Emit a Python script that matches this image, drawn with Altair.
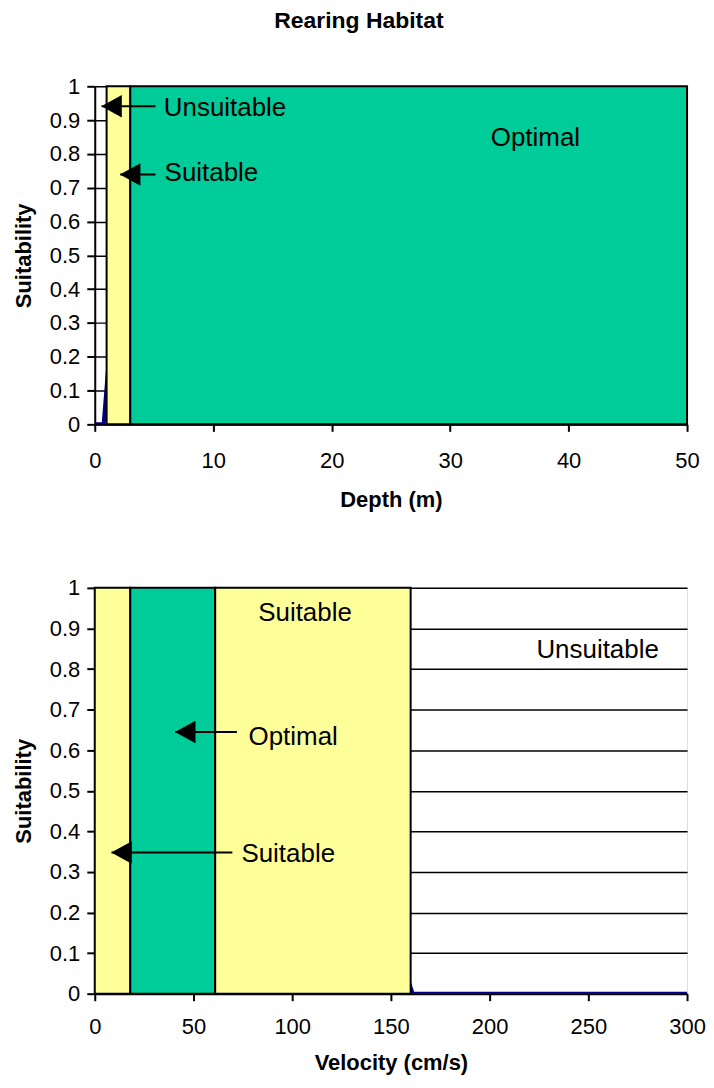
import altair as alt
import pandas as pd

# ---------------- data ----------------
# Depth panel
depth_zone_start = [1, 3]
depth_zone_end = [3, 50]
depth_zone_class = ["Suitable", "Optimal"]
depth_curve_x = [0, 0.75, 3, 50]
depth_curve_y = [0, 0, 1, 1]
depth_labels = ["Unsuitable", "Suitable", "Optimal"]
depth_label_x = [11.0, 9.85, 37.2]
depth_label_y = [0.935, 0.742, 0.846]
depth_arrow_tip_x = [0.58, 2.15]
depth_arrow_tail_x = [5.13, 5.13]
depth_arrow_y = [0.941, 0.739]
depth_ticks = [0, 10, 20, 30, 40, 50]

# Velocity panel
vel_zone_start = [0, 18, 61]
vel_zone_end = [18, 61, 160]
vel_zone_class = ["Suitable", "Optimal", "Suitable"]
vel_curve_x = [0, 18, 61, 94, 161, 300]
vel_curve_y = [0.3, 1, 1, 1, 0, 0]
vel_labels = ["Suitable", "Unsuitable", "Optimal", "Suitable"]
vel_label_x = [106.5, 254.7, 100.5, 98.0]
vel_label_y = [0.939, 0.846, 0.632, 0.344]
vel_arrow_tip_x = [40.8, 8.5]
vel_arrow_tail_x = [72, 69.7]
vel_arrow_y = [0.645, 0.348]
vel_ticks = [0, 50, 100, 150, 200, 250, 300]

suit_ticks = [round(i * 0.1, 1) for i in range(11)]
zone_domain = ["Suitable", "Optimal"]
zone_colors = ["#FFFF99", "#00CC99"]

FONT = "Liberation Sans"


def panel(zs, ze, zc, cx, cy, lt, lx, ly, at, atl, ay, xmax, xticks, xtitle,
          w, h, lpad, tpad):
    zones = pd.DataFrame({"x": zs, "x2": ze, "cls": zc,
                          "y0": [0] * len(zs), "y1": [1] * len(zs)})
    curve = pd.DataFrame({"x": cx, "y": cy})
    labels = pd.DataFrame({"t": lt, "x": lx, "y": ly})
    arrows = pd.DataFrame({"tip": at, "tail": atl, "y": ay})

    xscale = alt.Scale(domain=[0, xmax], nice=False, zero=True)
    yscale = alt.Scale(domain=[0, 1], nice=False)

    xaxis = alt.Axis(values=xticks, tickCount=len(xticks), grid=False,
                     tickSize=7, tickWidth=2,
                     tickColor="black", domainColor="black", domainWidth=2,
                     labelPadding=lpad, labelFontSize=22, labelFont=FONT,
                     labelColor="black", title=xtitle, titleFont=FONT,
                     titleFontSize=22, titleFontWeight="bold", titleColor="black",
                     titlePadding=tpad, labelFlush=False, labelOverlap=False)
    yaxis = alt.Axis(values=suit_ticks, tickCount=11, format=".1~f", grid=True,
                     gridColor="black", gridWidth=1.5, tickSize=8, tickWidth=2,
                     tickColor="black", domainColor="black", domainWidth=2,
                     labelPadding=7, labelFontSize=22, labelFont=FONT,
                     labelColor="black", title="Suitability", titleFont=FONT,
                     titleFontSize=22, titleFontWeight="bold", titleColor="black",
                     titlePadding=14, labelFlush=False, labelOverlap=False)

    def X(f):
        return alt.X(f, type="quantitative", scale=xscale, axis=xaxis)

    def Y(f):
        return alt.Y(f, type="quantitative", scale=yscale, axis=yaxis)

    line = alt.Chart(curve).mark_line(color="#000080", strokeWidth=4, clip=True).encode(
        x=X("x"), y=Y("y"),
    )
    rects = alt.Chart(zones).mark_rect(stroke="black", strokeWidth=2).encode(
        x=X("x"),
        x2="x2:Q",
        y=Y("y0"),
        y2="y1:Q",
        color=alt.Color("cls:N", scale=alt.Scale(domain=zone_domain, range=zone_colors), legend=None),
    )
    rules = alt.Chart(arrows).mark_rule(color="black", strokeWidth=2).encode(
        x=X("tip"), x2="tail:Q", y=Y("y")
    )
    heads = alt.Chart(arrows).mark_point(
        shape="M -1 0 L 1 -1.1 L 1 1.1 Z", size=420, filled=True,
        color="black", opacity=1, xOffset=10
    ).encode(x=X("tip"), y=Y("y"))
    texts = alt.Chart(labels).mark_text(
        font=FONT, fontSize=26, color="black", align="center", baseline="middle"
    ).encode(x=X("x"), y=Y("y"), text="t:N")

    return alt.layer(line, rects, rules, heads, texts).properties(width=w, height=h)


top = panel(depth_zone_start, depth_zone_end, depth_zone_class,
            depth_curve_x, depth_curve_y, depth_labels, depth_label_x, depth_label_y,
            depth_arrow_tip_x, depth_arrow_tail_x, depth_arrow_y,
            50, depth_ticks, "Depth (m)", 594, 339, 19, 18)
bottom = panel(vel_zone_start, vel_zone_end, vel_zone_class,
               vel_curve_x, vel_curve_y, vel_labels, vel_label_x, vel_label_y,
               vel_arrow_tip_x, vel_arrow_tail_x, vel_arrow_y,
               300, vel_ticks, "Velocity (cm/s)", 594, 407, 16, 15)

chart = alt.vconcat(top, bottom, spacing=65).properties(
    title=alt.TitleParams("Rearing Habitat", font=FONT, fontSize=23,
                          fontWeight="bold", anchor="middle", frame="bounds",
                          offset=42, color="black"),
    padding={"left": 3, "top": 0, "right": 0, "bottom": 0},
).configure_view(stroke="black", strokeWidth=1.5).configure_axis(
    labelOverlap=False
).configure(background="white")

chart.save("out.html", embed_options={"renderer": "svg", "actions": False})
